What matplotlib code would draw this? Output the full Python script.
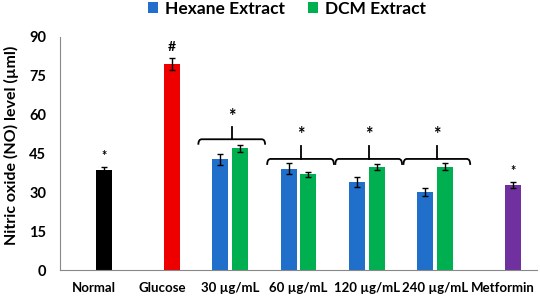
import matplotlib
matplotlib.use("Agg")
import matplotlib.pyplot as plt
from matplotlib.path import Path
from matplotlib.patches import PathPatch
import numpy as np

categories = ["Normal", "Glucose", "30 µg/mL", "60 µg/mL", "120 µg/mL", "240 µg/mL", "Metformin"]
single_labels = ["Normal", "Glucose", "Metformin"]
single_values = [38.6, 79.6, 32.8]
single_errors = [1.1, 2.4, 1.0]
single_colors = ["#000000", "#EE0000", "#7030A0"]
single_marks = ["*", "#", "*"]
dose_labels = ["30 µg/mL", "60 µg/mL", "120 µg/mL", "240 µg/mL"]
hexane_values = [42.7, 39.2, 34.1, 30.1]
hexane_errors = [2.2, 2.2, 1.9, 1.7]
dcm_values = [47.0, 36.9, 39.7, 39.9]
dcm_errors = [1.3, 1.1, 1.2, 1.3]
yticks = [0, 15, 30, 45, 60, 75, 90]

BLUE = "#1F6FCB"
GREEN = "#00B050"
FONT = "Lato"

fig = plt.figure(figsize=(5.40, 2.99), dpi=100)
ax = fig.add_axes([60/540, 1 - 270/299, 477/540, 233/299])

w = 0.235
off = 0.145
xpos = {c: i for i, c in enumerate(categories)}
ekw = dict(ecolor="black", capsize=2.2, elinewidth=1.0, capthick=1.0)

for lab, v, e, c, m in zip(single_labels, single_values, single_errors, single_colors, single_marks):
    x = xpos[lab] + off
    ax.bar(x, v, w, color=c, yerr=e, error_kw=ekw, zorder=2)
    fs = 10 if m == "#" else 9
    ax.text(x, v + e + 2.0, m, ha="center", va="bottom", fontsize=fs, fontweight="bold", family=FONT)

xd = np.array([xpos[c] for c in dose_labels], dtype=float)
ax.bar(xd - off, hexane_values, w, color=BLUE, yerr=hexane_errors, error_kw=ekw, label="Hexane Extract", zorder=2)
ax.bar(xd + off, dcm_values, w, color=GREEN, yerr=dcm_errors, error_kw=ekw, label="DCM Extract", zorder=2)

def bracket(xc, yh, yend, ytop, ystar, half=0.49):
    x0, x1 = xc - half, xc + half
    r = 0.05
    verts = [(x0, yend), (x0, yh), (x0 + r, yh), (x1 - r, yh), (x1, yh), (x1, yend)]
    codes = [Path.MOVETO, Path.CURVE3, Path.CURVE3, Path.LINETO, Path.CURVE3, Path.CURVE3]
    ax.add_patch(PathPatch(Path(verts, codes), fill=False, lw=1.3, color="black", zorder=3))
    ax.plot([xc, xc], [yh, ytop], color="black", lw=1.3, zorder=3)
    ax.text(xc, ystar, "*", ha="center", va="center", fontsize=13, fontweight="bold", family=FONT)

bracket(xd[0] + 0.02, 50.5, 48.4, 55.3, 59.3)
for xc in xd[1:]:
    bracket(xc + 0.03, 42.9, 40.6, 47.9, 52.2)

ax.set_xlim(-0.5, 6.5)
ax.set_ylim(0, 90)
ax.set_yticks(yticks)
ax.set_yticklabels([str(t) for t in yticks], fontsize=10.5, fontweight="bold", family=FONT)
ax.set_xticks(range(len(categories)))
ax.set_xticklabels(categories, fontsize=9.5, fontweight="bold", family=FONT)
ax.tick_params(axis="both", length=0)
ax.tick_params(axis="y", pad=10)
ax.tick_params(axis="x", pad=9)
for s in ["top", "right"]:
    ax.spines[s].set_visible(False)
ax.spines["left"].set_color("#888888")
ax.spines["bottom"].set_color("#888888")
ax.set_ylabel("Nitric oxide (NO) level (µml)", fontsize=11.5, fontweight="bold", family=FONT)
ax.yaxis.set_label_coords(-41/477, (270 - 145) / 233)

h, l = ax.get_legend_handles_labels()
fig.legend(h, l, loc="center", bbox_to_anchor=(287/540, 1 - 9/299), ncol=2, frameon=False,
           prop={"family": FONT, "weight": "bold", "size": 12.5}, handlelength=0.6, handleheight=0.6,
           handletextpad=0.4, columnspacing=1.3)

fig.savefig("out.png", dpi=100)
